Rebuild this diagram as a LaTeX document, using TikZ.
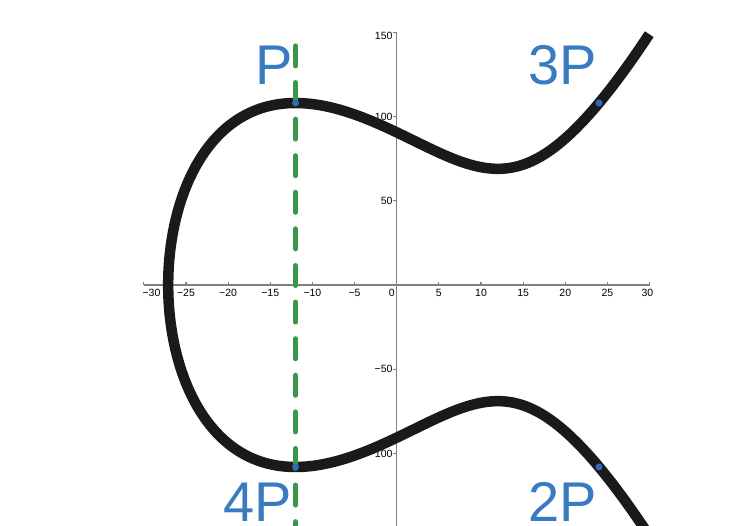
\documentclass[tikz,border=0pt]{standalone}
\usepackage{fontspec}
\setmainfont{Liberation Sans}
\definecolor{axisgray}{RGB}{128,128,128}
\definecolor{labblue}{RGB}{58,122,192}
\definecolor{dotblue}{RGB}{45,108,180}
\definecolor{curveblack}{RGB}{26,26,26}
\definecolor{lgreen}{RGB}{58,150,74}
\begin{document}
\begin{tikzpicture}[x=8.43pt,y=1.685pt,
  axisline/.style={draw=axisgray, line width=1.2pt},
  ticklab/.style={font=\fontsize{10.5}{12}\selectfont, inner sep=0pt},
  biglab/.style={font=\fontsize{56}{60}\selectfont, text=labblue, inner sep=0pt, anchor=base},
  ptdot/.style={circle, fill=dotblue, inner sep=0pt, minimum size=7pt},
  curvestyle/.style={draw=curveblack, line width=10.5pt},
  vline/.style={draw=lgreen, line width=5pt, line cap=round, dash pattern=on 20pt off 16.6pt}]
\useasboundingbox (-47.06,-143.03) rectangle (40.25,169.14);
\clip (-47.06,-143.03) rectangle (40.25,169.14);
% axes
\coordinate (xa) at (-30,0);
\coordinate (xb) at (30,0);
\coordinate (ya) at (0,150);
\coordinate (yb) at (0,-150);
\draw[axisline] (xa) -- (xb);
\draw[axisline] (ya) -- (yb);
\foreach \k in {-30,-25,...,30} {\draw[axisline] (\k,0) -- ++(0pt,3pt);}
\foreach \k in {150,100,50,-50,-100} {\draw[axisline] (0,\k) -- ++(-3.5pt,0pt);}
% x tick labels
\node[ticklab, anchor=north] (xl1) at ([yshift=-4pt]-29.09,0) {−30};
\foreach \k/\t [count=\i from 2] in {-25/−25,-20/−20,-15/−15,-10/−10,-5/−5,5/5,10/10,15/15,20/20,25/25}
  {\node[ticklab, anchor=north] (xl\i) at ([yshift=-4pt]\k,0) {\t};}
\node[ticklab, anchor=north] (xl12) at ([yshift=-4pt]29.75,0) {30};
\node[ticklab, anchor=north east] (xl0) at ([xshift=-1.8pt,yshift=-4pt]0,0) {0};
% y tick labels
\node[ticklab, anchor=east] (yl1) at ([xshift=-4pt,yshift=-3.7pt]0,150) {150};
\foreach \k/\t [count=\i from 2] in {100/100,50/50,-50/−50,-100/−100}
  {\node[ticklab, anchor=east] (yl\i) at ([xshift=-4pt]0,\k) {\t};}
% curve
\draw[curvestyle] plot[domain=-7.55693:7.55693, samples=400, variable=\t]
  ({-27.1072+\t*\t},{\t*sqrt((-27.1072+\t*\t)*(-27.1072+\t*\t)-27.1072*(-27.1072+\t*\t)+302.80)});
% vertical dashed line
\coordinate (va) at (-12,141.9);
\coordinate (vb) at (-12,-150);
\draw[vline] (va) -- (vb);
% points
\node[ptdot] (p1) at (-12,108) {};
\node[ptdot] (p3) at (24,108) {};
\node[ptdot] (p2) at (24,-108) {};
\node[ptdot] (p4) at (-12,-108) {};
% labels
\node[biglab] (lP) at (-14.55,118.7) {P};
\node[biglab] (l3P) at (19.67,118.7) {3P};
\node[biglab] (l4P) at (-16.51,-140.5) {4P};
\node[biglab] (l2P) at (19.67,-140.1) {2P};
\end{tikzpicture}
\end{document}
